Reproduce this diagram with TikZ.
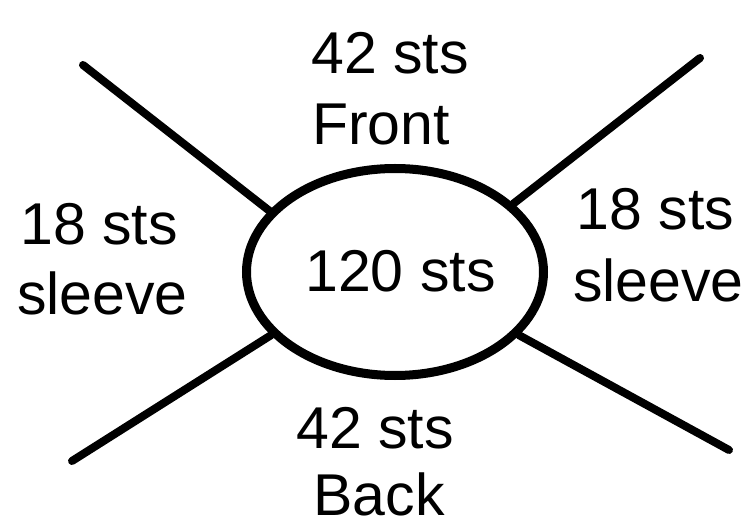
\documentclass[tikz,border=0pt]{standalone}
\usepackage{fontspec}
\setmainfont{Liberation Sans}
\usetikzlibrary{shapes.geometric}
\begin{document}
\begin{tikzpicture}[x=1pt,y=-1pt,
  lbl/.style={anchor=base,inner sep=0pt,font=\fontsize{59}{70}\selectfont},
  arm/.style={line width=8pt,line cap=round},
  bodyshape/.style={ellipse,draw,line width=9pt,minimum width=297pt,minimum height=207pt,inner sep=0pt}]
\useasboundingbox (0,0) rectangle (750,521);
\node[bodyshape] (body) at (395,272) {};
\coordinate (tl) at (83,65);
\coordinate (tr) at (700,58);
\coordinate (bl) at (72,461);
\coordinate (br) at (729,450);
\draw[arm] (tl) -- (body.154);
\draw[arm] (tr) -- (body.30);
\draw[arm] (bl) -- (body.207);
\draw[arm] (br) -- (body.333.6);
\node[lbl] (mid) at (400.5,292) {120 sts};
\node[lbl] (top1) at (390,74) {42 sts};
\node[lbl] (top2) at (381,145) {Front};
\node[lbl] (left1) at (99,245) {18 sts};
\node[lbl] (left2) at (102.5,315) {sleeve};
\node[lbl] (right1) at (655.5,230) {18 sts};
\node[lbl] (right2) at (658.5,302) {sleeve};
\node[lbl] (bot1) at (375,448) {42 sts};
\node[lbl] (bot2) at (379,515) {Back};
\end{tikzpicture}
\end{document}
